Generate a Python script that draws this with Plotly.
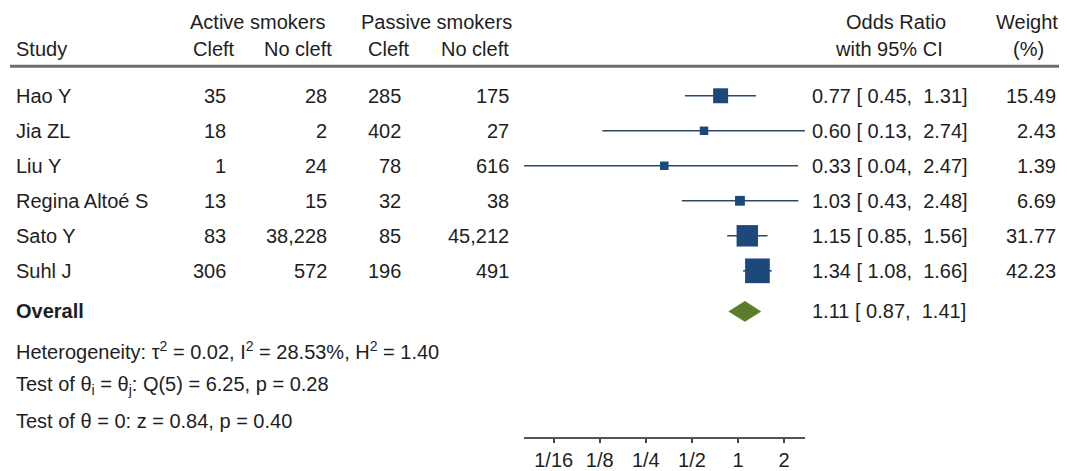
import math
import plotly.graph_objects as go

# ---------------- data ----------------
studies = ["Hao Y", "Jia ZL", "Liu Y", "Regina Altoé S", "Sato Y", "Suhl J"]
active_cleft = [35, 18, 1, 13, 83, 306]
active_nocleft = [28, 2, 24, 15, 38228, 572]
passive_cleft = [285, 402, 78, 32, 85, 196]
passive_nocleft = [175, 27, 616, 38, 45212, 491]
or_est = [0.77, 0.60, 0.33, 1.03, 1.15, 1.34]
or_lo = [0.45, 0.13, 0.04, 0.43, 0.85, 1.08]
or_hi = [1.31, 2.74, 2.47, 2.48, 1.56, 1.66]
weights = [15.49, 2.43, 1.39, 6.69, 31.77, 42.23]
overall_est = 1.11
overall_lo = 0.87
overall_hi = 1.41
tick_vals = [1/16, 1/8, 1/4, 1/2, 1, 2]
tick_text = ["1/16", "1/8", "1/4", "1/2", "1", "2"]
het_text = "Heterogeneity: τ<sup>2</sup> = 0.02, I<sup>2</sup> = 28.53%, H<sup>2</sup> = 1.40"
q_text = "Test of θ<sub>i</sub> = θ<sub>j</sub>: Q(5) = 6.25, p = 0.28"
z_text = "Test of θ = 0: z = 0.84, p = 0.40"

# ---------------- layout constants ----------------
OX, OY = 8, 8              # default page (body) margin around the figure div
W, H = 1067 - OX, 471 - OY
AXIS_Y = 443               # page pixel row of the x-axis line
ROW0 = 97                  # page pixel centre of first study row
ROWH = 35.5                # pixel spacing of rows
FONT = "Liberation Sans, Arial, sans-serif"
FS = 20
TXT = "#1e1e1e"
NAVY = "#1d497a"
LINEC = "#2d4a68"
GREEN = "#5a7d2c"


def yd(px):
    """page pixel y -> y data units"""
    return (px - ROW0) / ROWH


def xp(px):
    """page pixel x -> paper fraction"""
    return (px - OX) / W


fig = go.Figure()

# CI lines
for i, (lo, hi) in enumerate(zip(or_lo, or_hi)):
    fig.add_trace(go.Scatter(x=[lo, hi], y=[i, i], mode="lines",
                             line=dict(color=LINEC, width=1.6),
                             hoverinfo="skip", cliponaxis=False))

# study markers, area proportional to weight (with a minimum size)
sizes = [max(8.5, 3.8 * math.sqrt(w)) for w in weights]
fig.add_trace(go.Scatter(x=or_est, y=list(range(len(studies))), mode="markers",
                         marker=dict(symbol="square", size=sizes, color=NAVY,
                                     opacity=1, line=dict(width=0)),
                         opacity=1, cliponaxis=False))

# overall diamond
y_over = len(studies) + 0.16
dh = 0.29
fig.add_trace(go.Scatter(x=[overall_lo, overall_est, overall_hi, overall_est, overall_lo],
                         y=[y_over, y_over - dh, y_over, y_over + dh, y_over],
                         mode="lines", fill="toself", fillcolor=GREEN,
                         line=dict(color=GREEN, width=0.5), cliponaxis=False))

ann = []


def add(x_px, y, text, anchor="left", bold=False, size=FS):
    if bold:
        text = "<b>" + text + "</b>"
    ann.append(dict(x=xp(x_px), y=y, xref="paper", yref="y", text=text,
                    showarrow=False, xanchor=anchor, yanchor="middle",
                    font=dict(family=FONT, size=size, color=TXT)))


# headers
add(258, yd(22), "Active smokers", "center")
add(436, yd(22), "Passive smokers", "center")
add(14, yd(50), "Study", "left")
add(237, yd(50), "Cleft", "right")
add(334, yd(50), "No cleft", "right")
add(412, yd(50), "Cleft", "right")
add(511, yd(50), "No cleft", "right")
add(896, yd(22), "Odds Ratio", "center")
add(889, yd(50), "with 95% CI", "center")
add(1060, yd(22), "Weight", "right")
add(1028, yd(50), "(%)", "center")

# study rows
for i, s in enumerate(studies):
    add(14, i, s, "left")
    add(228, i, f"{active_cleft[i]:,}", "right")
    add(329, i, f"{active_nocleft[i]:,}", "right")
    add(403, i, f"{passive_cleft[i]:,}", "right")
    add(511, i, f"{passive_nocleft[i]:,}", "right")
    add(810, i, f"{or_est[i]:.2f} [\u00a0{or_lo[i]:.2f},\u00a0\u00a0{or_hi[i]:.2f}]", "left")
    add(1058, i, f"{weights[i]:.2f}", "right")

# overall row
add(14, y_over, "Overall", "left", bold=True)
add(810, y_over, f"{overall_est:.2f} [\u00a0{overall_lo:.2f},\u00a0\u00a0{overall_hi:.2f}]", "left")

# stats rows
add(14, yd(355), het_text, "left")
add(14, yd(391), q_text, "left")
add(14, yd(427), z_text, "left")

shapes = [dict(type="line", xref="paper", yref="y", x0=xp(10), x1=1.0,
               y0=yd(67), y1=yd(67), line=dict(color="#6e6e6e", width=3))]

x_lo = math.log10(min(or_lo))
x_hi = math.log10(max(or_hi))

fig.update_layout(
    width=W, height=H,
    margin=dict(l=0, r=0, t=0, b=H - (AXIS_Y - OY)),
    paper_bgcolor="white", plot_bgcolor="white",
    showlegend=False,
    annotations=ann, shapes=shapes,
    xaxis=dict(type="log", range=[x_lo, x_hi], domain=[xp(524), xp(805)],
               showline=True, linecolor="#555555", linewidth=2,
               ticks="outside", ticklen=4, tickwidth=1.5, tickcolor="#444444",
               tickvals=tick_vals, ticktext=tick_text,
               tickfont=dict(family=FONT, size=FS, color=TXT),
               showgrid=False, zeroline=False, fixedrange=True),
    yaxis=dict(range=[yd(AXIS_Y), yd(OY)], visible=False, showgrid=False,
               zeroline=False, fixedrange=True),
)

fig.write_html("out.html")
